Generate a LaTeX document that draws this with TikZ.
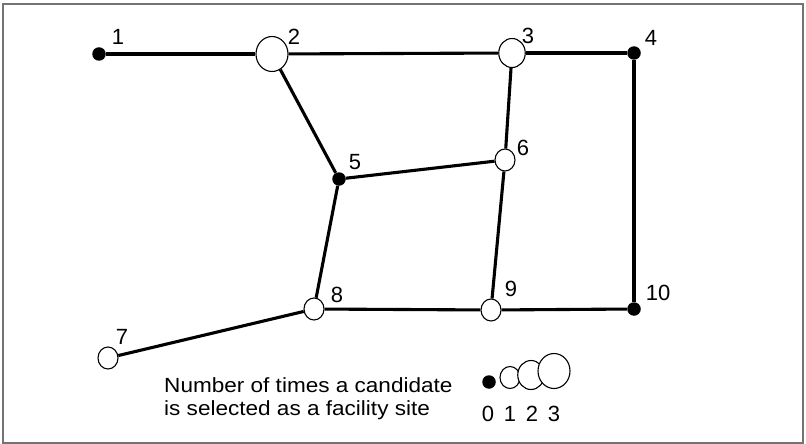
\documentclass[tikz,border=0pt]{standalone}
\usepackage{fontspec}
\setmainfont{Liberation Sans}
\usetikzlibrary{shapes.geometric}
\begin{document}
\begin{tikzpicture}[x=1pt,y=-1pt,
  site/.style={ellipse, draw=black, line width=1.1pt, fill=white, inner sep=0pt},
  s0/.style={circle, fill=black, inner sep=0pt, minimum size=13.5pt},
  s1/.style={site, minimum width=20pt, minimum height=22pt},
  s2/.style={site, minimum width=26.5pt, minimum height=29pt},
  s3/.style={site, minimum width=32pt, minimum height=35pt},
  lbl/.style={font=\fontsize{22}{22}\selectfont, inner sep=0pt},
  legtext/.style={font=\fontsize{20.5}{20.5}\selectfont, inner sep=0pt, anchor=base west, xscale=1.1, transform shape},
  edge/.style={line width=3.1pt},
  frame/.style={draw=black!55, line width=1.2pt}]
\useasboundingbox (0,0) rectangle (806,444);
\draw[frame] (3,4) rectangle (803,443);
% sites
\node[s0] (n1) at (99,54) {};
\node[s3] (n2) at (272,54) {};
\node[s2] (n3) at (512,53) {};
\node[s0] (n4) at (634,53) {};
\node[s0] (n5) at (339,179) {};
\node[s1] (n6) at (505,160) {};
\node[s1] (n7) at (108,358) {};
\node[s1] (n8) at (314,309) {};
\node[s1] (n9) at (491,310) {};
\node[s0] (n10) at (634,309) {};
% edges
\draw[edge] (n1) -- (n2);
\draw[edge] (n2) -- (n3);
\draw[edge] (n3) -- (n4);
\draw[edge] (n4) -- (n10);
\draw[edge] (n2) -- (n5);
\draw[edge] (n3) -- (n6);
\draw[edge] (n5) -- (n6);
\draw[edge] (n5) -- (n8);
\draw[edge] (n6) -- (n9);
\draw[edge] (n8) -- (n9);
\draw[edge] (n9) -- (n10);
\draw[edge] (n7) -- (n8);
% labels
\node[lbl] (t1) at (118,37) {1};
\node[lbl] (t2) at (294,37) {2};
\node[lbl] (t3) at (528,36) {3};
\node[lbl] (t4) at (651,38) {4};
\node[lbl] (t5) at (355,162) {5};
\node[lbl] (t6) at (523,148) {6};
\node[lbl] (t7) at (122,337) {7};
\node[lbl] (t8) at (337,295) {8};
\node[lbl] (t9) at (511,289) {9};
\node[lbl] (t10) at (658,293) {10};
% legend
\node[legtext] (leg1) at (164,392) {Number of times a candidate};
\node[legtext] (leg2) at (164,415) {is selected as a facility site};
\node[s0] (l0) at (489,382) {};
\node[s1] (l1) at (510,377.5) {};
\node[s2] (l2) at (531,375) {};
\node[s3] (l3) at (554,371) {};
\node[lbl] (d0) at (488,414) {0};
\node[lbl] (d1) at (510,414) {1};
\node[lbl] (d2) at (532,414) {2};
\node[lbl] (d3) at (554,414) {3};
\end{tikzpicture}
\end{document}
